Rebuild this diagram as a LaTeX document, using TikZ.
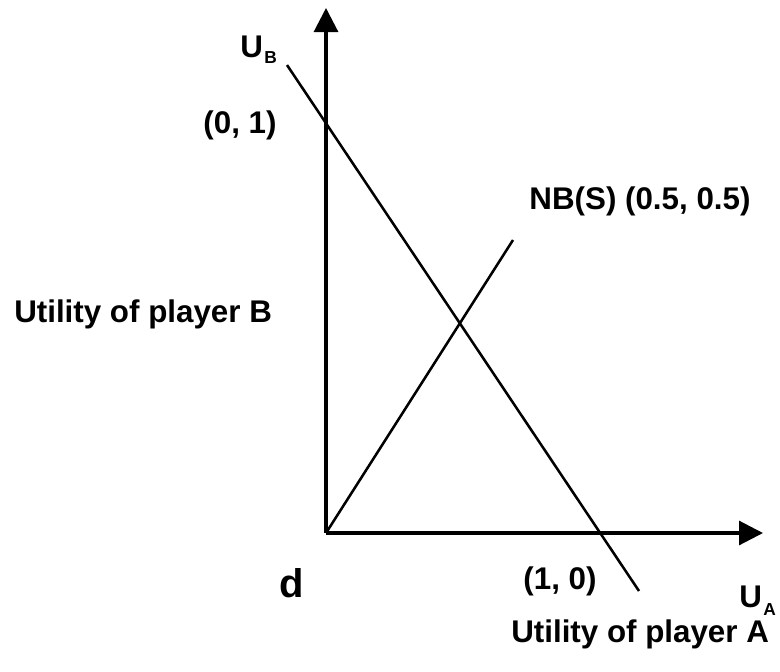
\documentclass[tikz,border=0pt]{standalone}
\usepackage{fontspec}
\setmainfont{Liberation Sans}
\usetikzlibrary{arrows.meta}
\begin{document}
\begin{tikzpicture}[x=0.75pt,y=-0.75pt,
  axis/.style={line width=2.3pt,-{Triangle[length=18pt,width=18pt]}},
  curve/.style={line width=1.9pt},
  lbl/.style={inner sep=0pt,font=\fontsize{23.5}{28}\selectfont\bfseries},
  big/.style={inner sep=0pt,font=\fontsize{30}{36}\selectfont\bfseries},
  sub/.style={inner sep=0pt,font=\fontsize{13}{16}\selectfont\bfseries}]
\useasboundingbox (0,0) rectangle (780,671);
\coordinate (O) at (326,533);
\coordinate (Ytip) at (326,8);
\coordinate (Xtip) at (763,533);
\coordinate (L1) at (287,65);
\coordinate (L2) at (639,591);
\coordinate (N2) at (513,240);
\draw[axis] (O) -- (Ytip);
\draw[axis] (O) -- (Xtip);
\draw[curve] (L1) -- (L2);
\draw[curve] (O) -- (N2);
\node[lbl,anchor=base west] (ub) at (240,57) {U};
\node[sub,anchor=base west] (ubs) at (264,63) {B};
\node[lbl] (p01) at (240,125) {(0, 1)};
\node[lbl] (nb) at (640,201) {NB(S) (0.5, 0.5)};
\node[lbl,anchor=base west] (uB) at (14,322) {Utility of player B};
\node[big,anchor=base west] (d) at (279,597) {d};
\node[lbl] (p10) at (560,581) {(1, 0)};
\node[lbl,anchor=base west] (ua) at (739,607) {U};
\node[sub,anchor=base west] (uas) at (763,615) {A};
\node[lbl,anchor=base west] (uA) at (511,642) {Utility of player A};
\end{tikzpicture}
\end{document}
